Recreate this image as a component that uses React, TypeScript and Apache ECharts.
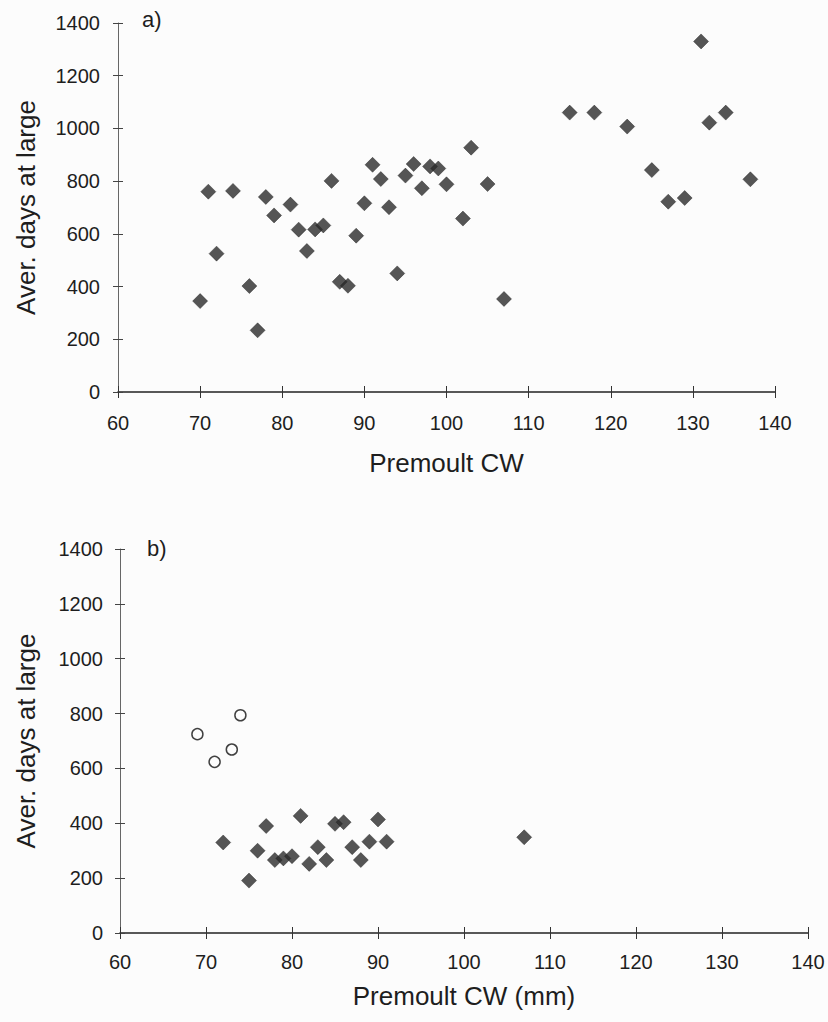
import React, { useEffect, useRef } from "react";
import * as echarts from "echarts";

// Panel a) premoult carapace width vs average days at large
const cwA = [70, 71, 72, 74, 76, 77, 78, 79, 81, 82, 83, 84, 85, 86, 87, 88, 89, 90, 91, 92, 93, 94, 95, 96, 97, 98, 99, 100, 102, 103, 105, 107, 115, 118, 122, 125, 127, 129, 131, 132, 134, 137];
const daysA = [345, 760, 525, 763, 402, 234, 740, 670, 711, 616, 535, 617, 632, 801, 418, 403, 593, 716, 862, 808, 701, 450, 821, 865, 773, 856, 848, 788, 658, 927, 789, 353, 1060, 1060, 1007, 842, 722, 736, 1330, 1022, 1060, 807];

// Panel b) filled diamonds
const cwB = [72, 75, 76, 77, 78, 79, 80, 81, 82, 83, 84, 85, 86, 87, 88, 89, 90, 91, 107];
const daysB = [330, 191, 300, 390, 266, 272, 280, 427, 252, 313, 266, 398, 404, 313, 266, 333, 414, 333, 349];
// Panel b) open circles
const cwBOpen = [69, 71, 73, 74];
const daysBOpen = [725, 624, 669, 794];

const panelLabels = ["a)", "b)"];
const xNames = ["Premoult CW", "Premoult CW (mm)"];
const yName = "Aver. days at large";
const xMin = 60, xMax = 140, xStep = 10;
const yMin = 0, yMax = 1400, yStep = 200;

const FONT = "'Liberation Sans', Arial, sans-serif";
const INK = "#1e1e1e";

function pairs(xs: number[], ys: number[]) {
  return xs.map((x, i) => [x, ys[i]]);
}

export default function App() {
  const ref = useRef<HTMLDivElement>(null);
  useEffect(() => {
    if (!ref.current) return;
    const chart = echarts.init(ref.current, null, { renderer: "svg" });

    const grids = [
      { left: 118, top: 23, right: 53, bottom: 630 },
      { left: 120, top: 549, right: 20, bottom: 89 },
    ];
    const labelMarginX = [21, 19];
    const labelMarginY = [18, 17];
    const nameGapX = [58, 50];
    const nameGapY = [79, 81];
    const plain = (v: number) => String(v);

    const xAxes: any[] = [];
    const yAxes: any[] = [];
    grids.forEach((_, g) => {
      xAxes.push({
        type: "value", gridIndex: g, min: xMin, max: xMax, interval: xStep,
        position: "bottom",
        name: xNames[g], nameLocation: "middle", nameGap: nameGapX[g],
        nameTextStyle: { fontFamily: FONT, fontSize: 26, color: INK },
        axisLine: { show: true, onZero: false, lineStyle: { color: "#222", width: 1.5 } },
        axisTick: { show: true, length: 6, lineStyle: { color: "#333", width: 1 } },
        axisLabel: { fontFamily: FONT, fontSize: 20, color: INK, margin: labelMarginX[g], formatter: plain },
        splitLine: { show: false },
      });
      xAxes.push({
        type: "value", gridIndex: g, min: xMin, max: xMax, interval: xStep,
        position: "bottom",
        axisLine: { show: false, onZero: false },
        axisTick: { show: true, inside: true, length: 6, lineStyle: { color: "#333", width: 1 } },
        axisLabel: { show: false },
        splitLine: { show: false },
      });
      yAxes.push({
        type: "value", gridIndex: g, min: yMin, max: yMax, interval: yStep,
        position: "left",
        name: yName, nameLocation: "middle", nameGap: nameGapY[g], nameRotate: 90,
        nameTextStyle: { fontFamily: FONT, fontSize: 26, color: INK },
        axisLine: { show: true, onZero: false, lineStyle: { color: "#666", width: 1 } },
        axisTick: { show: true, length: 5, lineStyle: { color: "#444", width: 1 } },
        axisLabel: { fontFamily: FONT, fontSize: 20, color: INK, margin: labelMarginY[g], formatter: plain },
        splitLine: { show: false },
      });
      yAxes.push({
        type: "value", gridIndex: g, min: yMin, max: yMax, interval: yStep,
        position: "left",
        axisLine: { show: false, onZero: false },
        axisTick: { show: true, inside: true, length: 5, lineStyle: { color: "#444", width: 1 } },
        axisLabel: { show: false },
        splitLine: { show: false },
      });
    });

    const diamondStyle = { color: "#2b2b2b", borderColor: "#1a1a1a", borderWidth: 0.5 };

    chart.setOption({
      animation: false,
      backgroundColor: "#fcfcfc",
      grid: grids,
      xAxis: xAxes,
      yAxis: yAxes,
      graphic: [
        { type: "text", left: 142, top: 8, style: { text: panelLabels[0], font: `22px ${FONT}`, fill: INK } },
        { type: "text", left: 147, top: 537, style: { text: panelLabels[1], font: `22px ${FONT}`, fill: INK } },
      ],
      series: [
        {
          type: "scatter", xAxisIndex: 0, yAxisIndex: 0,
          symbol: "diamond", symbolSize: 15,
          itemStyle: diamondStyle,
          data: pairs(cwA, daysA),
        },
        {
          type: "scatter", xAxisIndex: 2, yAxisIndex: 2,
          symbol: "diamond", symbolSize: 15,
          itemStyle: diamondStyle,
          data: pairs(cwB, daysB),
        },
        {
          type: "scatter", xAxisIndex: 2, yAxisIndex: 2,
          symbol: "circle", symbolSize: 11,
          itemStyle: { color: "#fcfcfc", borderColor: "#111", borderWidth: 1.5 },
          data: pairs(cwBOpen, daysBOpen),
        },
      ],
    });
    return () => chart.dispose();
  }, []);

  return (
    <div
      ref={ref}
      style={{ position: "absolute", left: 0, top: 0, width: 828, height: 1022 }}
    />
  );
}
